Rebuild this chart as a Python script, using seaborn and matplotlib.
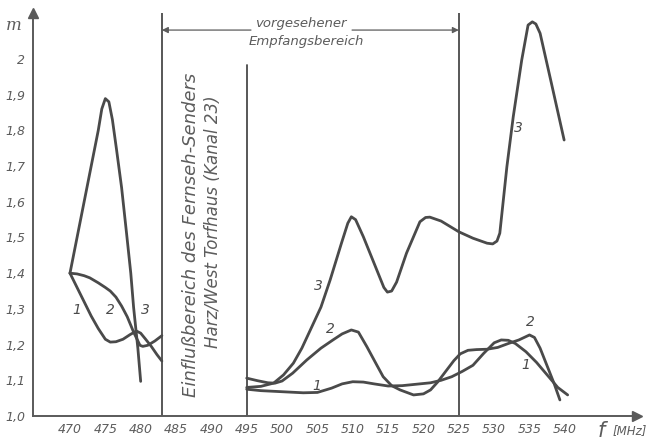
import numpy as np
import pandas as pd
import seaborn as sns
import matplotlib.pyplot as plt

# --- values -----------------------------------------------------------------
# left block (470 ... 483 MHz)
f1_left = [470, 471, 472, 473, 474, 475, 475.7, 476.5, 477.5, 478.5, 479.4, 480, 480.7, 481.5, 482.3, 483]
m1_left = [1.40, 1.36, 1.32, 1.28, 1.245, 1.215, 1.207, 1.208, 1.215, 1.228, 1.238, 1.232, 1.215, 1.195, 1.172, 1.154]

f2_left = [470, 471, 472, 472.8, 474, 475, 475.7, 476.5, 477.3, 478.1, 479, 479.9, 480.3, 481, 482, 483]
m2_left = [1.40, 1.398, 1.393, 1.387, 1.373, 1.36, 1.35, 1.333, 1.308, 1.278, 1.235, 1.198, 1.195, 1.198, 1.21, 1.225]

f3_left = [470, 471, 472, 473, 474, 474.5, 475, 475.5, 476, 476.6, 477.3, 478, 478.6, 479, 479.6, 480]
m3_left = [1.40, 1.50, 1.60, 1.70, 1.80, 1.86, 1.889, 1.88, 1.83, 1.744, 1.64, 1.512, 1.40, 1.304, 1.19, 1.097]

# right block (495 ... 540 MHz)
f1_right = [495, 497, 499, 501, 503, 505, 507, 508.5, 510, 511.5, 513, 515, 517, 519, 521, 522.5,
            524, 525.5, 527, 528.5, 530, 531, 532, 533, 534.5, 536, 537.5, 539, 540.4]
m1_right = [1.075, 1.071, 1.069, 1.067, 1.065, 1.066, 1.078, 1.09, 1.096, 1.095, 1.09, 1.084, 1.085,
            1.089, 1.093, 1.10, 1.11, 1.125, 1.142, 1.175, 1.205, 1.213, 1.212, 1.203, 1.18, 1.15,
            1.115, 1.08, 1.059]

f2_right = [495, 496.5, 498, 499, 500, 501.5, 503.5, 505.5, 507.2, 508.5, 509.8, 510.8, 512, 513.2,
            514.3, 515.5, 516.7, 518.6, 520, 521, 522, 523.3, 524.3, 525.2, 526.3, 527.5, 529, 530.5,
            532, 533.5, 535, 535.7, 536.5, 537.5, 538.5, 539.3]
m2_right = [1.106, 1.099, 1.093, 1.092, 1.098, 1.12, 1.157, 1.19, 1.213, 1.23, 1.241, 1.235, 1.194,
            1.15, 1.11, 1.085, 1.073, 1.059, 1.062, 1.073, 1.095, 1.129, 1.155, 1.174, 1.184, 1.186,
            1.187, 1.192, 1.203, 1.213, 1.227, 1.22, 1.19, 1.14, 1.09, 1.045]

f3_right = [495, 497, 498.8, 500.2, 501.6, 502.8, 504, 505.5, 506.8, 508.4, 509.3, 509.8, 510.4, 511.5,
            513.4, 514.4, 514.9, 515.5, 516.2, 517.6, 519.5, 520.3, 520.9, 522.5, 525, 527, 529, 529.8,
            530.4, 530.8, 531.8, 532.7, 533.9, 534.8, 535.4, 535.9, 536.5, 538.1, 539.9]
m3_right = [1.08, 1.083, 1.092, 1.115, 1.148, 1.19, 1.241, 1.305, 1.381, 1.484, 1.54, 1.558, 1.55, 1.502,
            1.409, 1.36, 1.347, 1.35, 1.375, 1.456, 1.544, 1.556, 1.557, 1.546, 1.516, 1.498, 1.484,
            1.482, 1.49, 1.512, 1.698, 1.838, 1.997, 2.095, 2.104, 2.098, 2.072, 1.932, 1.773]

x_ticks = list(range(470, 545, 5))
y_ticks = [1.0, 1.1, 1.2, 1.3, 1.4, 1.5, 1.6, 1.7, 1.8, 1.9, 2.0]
y_labels = ["1,0", "1,1", "1,2", "1,3", "1,4", "1,5", "1,6", "1,7", "1,8", "1,9", "2"]

curve_labels = [("1", 471.0, 1.296), ("2", 475.7, 1.296), ("3", 480.6, 1.296),
                ("1", 504.9, 1.084), ("2", 506.8, 1.244), ("3", 505.1, 1.364),
                ("1", 534.5, 1.143), ("2", 535.1, 1.264), ("3", 533.4, 1.807)]

band_lo, band_hi, tv_edge = 483, 525, 495

# --- drawing ----------------------------------------------------------------
sns.set_style("white")
ink = "#4a4a4a"
txt = "#5c5c5c"

fig = plt.figure(figsize=(6.49, 4.41), dpi=100)
ax = fig.add_axes([0.0513, 0.0567, 0.9297, 0.9148])

segments = [(f1_left, m1_left), (f2_left, m2_left), (f3_left, m3_left),
            (f1_right, m1_right), (f2_right, m2_right), (f3_right, m3_right)]
for fx, my in segments:
    sns.lineplot(x=fx, y=my, sort=False, estimator=None, color=ink, lw=2.0, ax=ax)

ax.set_xlim(464.81, 550.16)
ax.set_ylim(1.0, 2.13)

# vertical boundaries
ax.plot([band_lo, band_lo], [1.0, 2.13], color=ink, lw=1.3)
ax.plot([band_hi, band_hi], [1.0, 2.13], color=ink, lw=1.3)
ax.plot([tv_edge, tv_edge], [1.0, 1.983], color=ink, lw=1.3)

# double arrow for the planned band, broken by the text
y_arr = 2.081
for end, start in [(band_lo, 495.6), (band_hi, 509.9)]:
    ax.annotate("", xy=(end, y_arr), xytext=(start, y_arr),
                arrowprops=dict(arrowstyle="-|>", color=txt, lw=0.9, shrinkA=0,
                                shrinkB=0, mutation_scale=9))
ax.text(502.7, 2.10, "vorgesehener", ha="center", va="center", style="italic",
        fontsize=9.5, color=txt)
ax.text(503.4, 2.05, "Empfangsbereich", ha="center", va="center", style="italic",
        fontsize=9.5, color=txt)

ax.text(487.1, 1.507, "Einflußbereich des Fernseh-Senders", rotation=90, ha="center",
        va="center", style="italic", fontsize=13, color=txt)
ax.text(490.2, 1.543, "Harz/West Torfhaus (Kanal 23)", rotation=90, ha="center",
        va="center", style="italic", fontsize=12, color=txt)

for lab, fx, my in curve_labels:
    ax.text(fx, my, lab, ha="center", va="center", style="italic", fontsize=10,
            color=ink)

# axes with arrows and cross ticks
for side in ["top", "right"]:
    ax.spines[side].set_visible(False)
for side in ["left", "bottom"]:
    ax.spines[side].set_color("#5a5a5a")
    ax.spines[side].set_linewidth(1.4)
ax.plot(0, 1, "^", color="#5a5a5a", ms=7, transform=ax.transAxes, clip_on=False)
ax.plot(1, 0, ">", color="#5a5a5a", ms=7, transform=ax.transAxes, clip_on=False)

ax.set_xticks(x_ticks)
ax.set_xticklabels([str(v) for v in x_ticks])
ax.set_yticks(y_ticks)
ax.set_yticklabels(y_labels)
ax.tick_params(direction="inout", length=6, width=1.0, color="#5a5a5a",
               labelcolor=txt, labelsize=9)
ax.tick_params(axis="x", pad=2)
ax.tick_params(axis="y", pad=3)
for t in ax.get_xticklabels() + ax.get_yticklabels():
    t.set_fontstyle("italic")

fig.text(14 / 649, 1 - 25 / 441, "m", ha="center", va="center", style="italic",
         fontsize=12, color=txt, family=["DejaVu Serif"])
fig.text(601 / 649, 1 - 431 / 441, "f", ha="center", va="center", style="italic",
         fontsize=15, color=txt)
fig.text(630 / 649, 1 - 431 / 441, "[MHz]", ha="center", va="center", style="italic",
         fontsize=8.5, color=txt)

ax.set_xlabel("")
ax.set_ylabel("")
fig.savefig("out.png", dpi=100)
